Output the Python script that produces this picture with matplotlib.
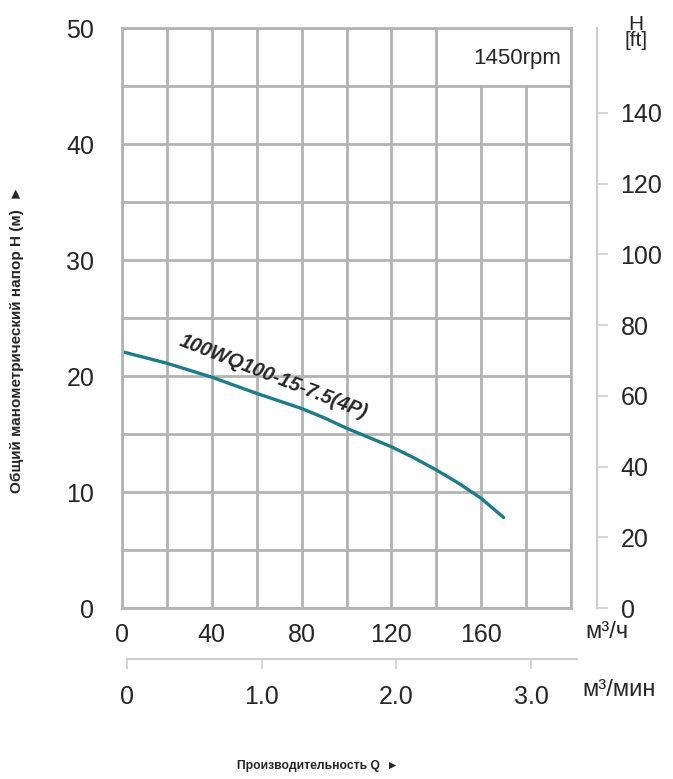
import matplotlib
matplotlib.use("Agg")
import numpy as np
import matplotlib.pyplot as plt
from matplotlib.patches import Rectangle

# ---- data ----
flow_m3h = [0, 20, 40, 60, 80, 90, 100, 110, 120, 130, 140, 150, 160, 170]
head_m = [22.1, 21.1, 19.9, 18.5, 17.2, 16.4, 15.5, 14.7, 13.9, 12.95, 11.9,
          10.75, 9.45, 7.8]
q_ticks = [0, 40, 80, 120, 160]
h_ticks = [0, 10, 20, 30, 40, 50]
ft_ticks = [0, 20, 40, 60, 80, 100, 120, 140]
qmin_ticks = [0, 1.0, 2.0, 3.0]
qmin_labels = ["0", "1.0", "2.0", "3.0"]
curve_name = "100WQ100-15-7.5(4P)"
speed_text = "1450rpm"
M_TO_FT = 3.28
Q_MAX, H_MAX = 200, 50

plt.rcParams["font.family"] = ["Liberation Sans", "DejaVu Sans"]

W, H = 673, 779
fig = plt.figure(figsize=(W / 100, H / 100), dpi=100)


def box(x0, y0, x1, y1):
    # pixel box -> figure fraction
    return [x0 / W, 1 - y1 / H, (x1 - x0) / W, (y1 - y0) / H]


grid_c = "#b3b3b3"
light_c = "#cdcdcd"
text_c = "#262626"

# main head-flow axes
ax = fig.add_axes(box(122, 28, 571, 608))
ax.set_xlim(0, Q_MAX)
ax.set_ylim(0, H_MAX)
ax.set_xticks(q_ticks)
ax.set_xticks(np.arange(0, Q_MAX + 1, 20), minor=True)
ax.set_yticks(h_ticks)
ax.set_yticks(np.arange(0, H_MAX + 1, 5), minor=True)
ax.grid(which="both", color=grid_c, lw=2.0)
ax.set_axisbelow(True)
ax.tick_params(which="both", length=0)
ax.tick_params(axis="x", labelsize=18, pad=11, colors=text_c)
ax.tick_params(axis="y", labelsize=18, pad=20, colors=text_c)
for s in ax.spines.values():
    s.set_color(grid_c)
    s.set_linewidth(2.0)

# white box behind the speed label
ax.add_patch(Rectangle((140.7, 45.12), 58.6, 4.76, facecolor="white",
                       edgecolor="none", zorder=1))
ax.text(195.5, 47.4, speed_text, ha="right", va="center", fontsize=16,
        color=text_c, zorder=3)

# pump curve
ax.plot(flow_m3h, head_m, color="#1c7c89", lw=2.4, zorder=2,
        solid_capstyle="round", solid_joinstyle="round")
ax.text(67.5, 19.9, curve_name, rotation=-21.5, rotation_mode="anchor",
        ha="center", va="center", fontsize=14.3, fontweight="bold",
        fontstyle="italic", color=text_c, zorder=3)

# head in feet on the right
axr = ax.twinx()
axr.set_ylim(0, H_MAX * M_TO_FT)
axr.set_yticks(ft_ticks)
for k in ["left", "top", "bottom"]:
    axr.spines[k].set_visible(False)
axr.spines["right"].set_position(("axes", (597 - 122) / 449))
axr.spines["right"].set_color(light_c)
axr.spines["right"].set_linewidth(1.5)
axr.tick_params(axis="y", direction="out", length=8, width=1.2,
                color=light_c, labelsize=18, labelcolor=text_c, pad=9)
fig.text(636, H - 32, "H\n[ft]", ha="center", va="center", fontsize=15,
         color=text_c, linespacing=0.8, transform=None)

# flow in m3/min below
ax2 = fig.add_axes(box(127, 658, 577, 658.5))
ax2.set_xlim(0, 450 / 449 * Q_MAX / 60)
ax2.set_yticks([])
ax2.patch.set_visible(False)
for k in ["left", "top", "right"]:
    ax2.spines[k].set_visible(False)
ax2.spines["bottom"].set_color(light_c)
ax2.spines["bottom"].set_linewidth(1.5)
ax2.set_xticks(qmin_ticks)
ax2.set_xticklabels(qmin_labels)
ax2.tick_params(axis="x", direction="out", length=7, width=1.2,
                color=light_c, labelsize=18, labelcolor=text_c, pad=12)

# unit labels and axis titles
fig.text(607, H - 632, "м³/ч", ha="center", va="center", fontsize=17,
         color=text_c, transform=None)
fig.text(619, H - 690, "м³/мин", ha="center", va="center", fontsize=17,
         color=text_c, transform=None)
fig.text(318, H - 766, "Производительность Q  ►", ha="center", va="center",
         fontsize=8.7, fontweight="bold", color=text_c, transform=None)
fig.text(17, H - 339, "Общий манометрический напор H (м)  ►", ha="center",
         va="center", rotation=90, fontsize=11, fontweight="bold",
         color=text_c, transform=None)

fig.savefig("out.png", dpi=100, facecolor="white")
